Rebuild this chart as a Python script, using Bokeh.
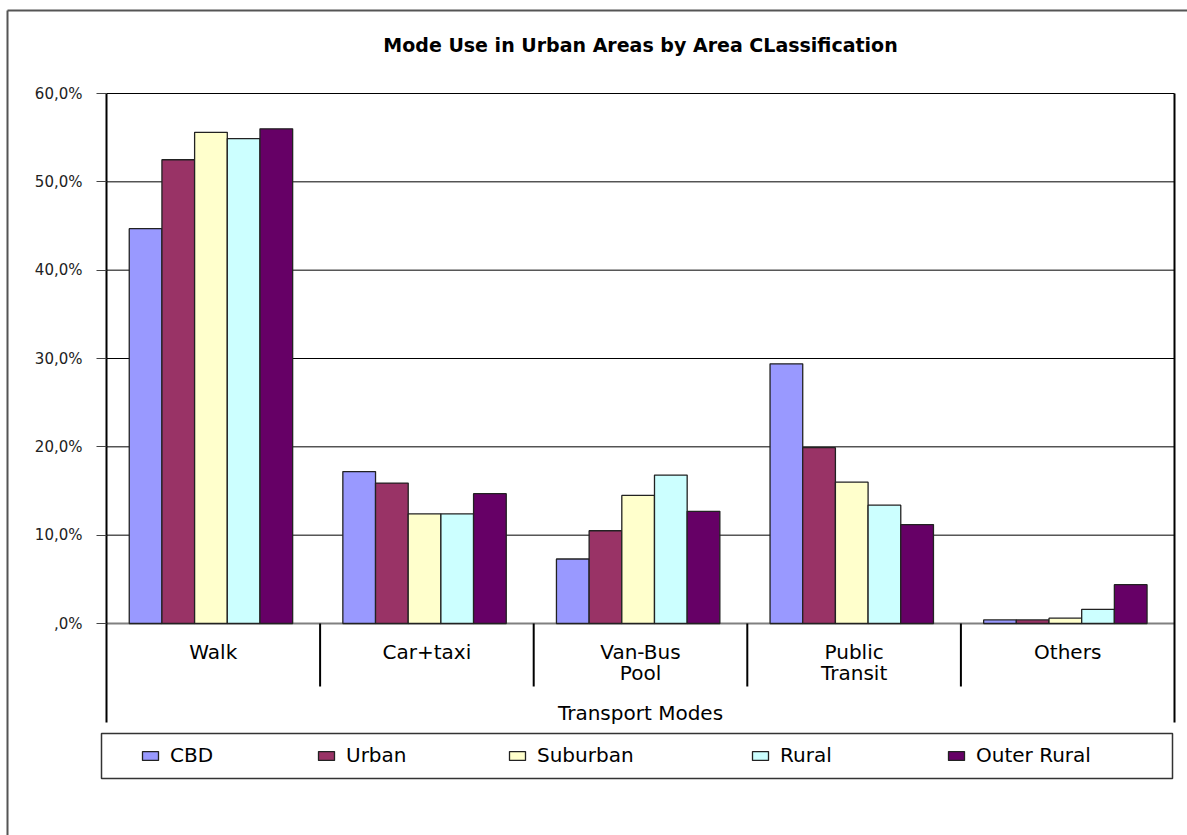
from bokeh.plotting import figure
from bokeh.models import Range1d, LinearAxis, FixedTicker, Legend, LegendItem, Grid
from bokeh.core.properties import value
from bokeh.embed import file_html
from bokeh.resources import INLINE

# ---------------- data ----------------
title_text = "Mode Use in Urban Areas by Area CLassification"
x_axis_title = "Transport Modes"
categories = ["Walk", "Car+taxi", "Van-Bus\nPool", "Public\nTransit", "Others"]
series = ["CBD", "Urban", "Suburban", "Rural", "Outer Rural"]
cbd = [44.7, 17.2, 7.3, 29.4, 0.4]
urban = [52.5, 15.9, 10.5, 19.9, 0.4]
suburban = [55.6, 12.4, 14.5, 16.0, 0.6]
rural = [54.9, 12.4, 16.8, 13.4, 1.6]
outer_rural = [56.0, 14.7, 12.7, 11.2, 4.4]
y_ticks = [0, 10, 20, 30, 40, 50, 60]
y_tick_labels = [",0%", "10,0%", "20,0%", "30,0%", "40,0%", "50,0%", "60,0%"]

# ---------------- style / layout ----------------
colors = ["#9999FF", "#993366", "#FFFFCC", "#CCFFFF", "#660066"]
FONT = "DejaVu Sans"
W, H = 1187, 835
PL, PR, PT, PB = 106, 1174, 93, 623   # plot area in pixels
CAT_W = (PR - PL) / len(categories)
SY = (PB - PT) / y_ticks[-1]
BW = 0.153
SHIFT = -0.011
LEGEND_X = [140, 316, 507, 750, 946]   # legend entry positions (pixels)


def dx(px):
    return (px - PL) / CAT_W


def dy(py):
    return (PB - py) / SY


p = figure(width=W, height=H,
           x_range=Range1d(dx(0), dx(W)), y_range=Range1d(dy(H), dy(0)),
           output_backend="svg", toolbar_location=None,
           x_axis_location=None, y_axis_location=None, min_border=0)
p.title.visible = False
p.outline_line_color = None
p.background_fill_color = "white"
p.border_fill_color = "white"
p.center = [r for r in p.center if not isinstance(r, Grid)]

# outer chart border (left + top)
p.segment(x0=[dx(7), dx(7)], y0=[dy(10), dy(10)], x1=[dx(7), dx(W)], y1=[dy(H), dy(10)],
          line_color="#555555", line_width=2)

# horizontal grid lines
p.segment(x0=[0] * (len(y_ticks) - 1), x1=[len(categories)] * (len(y_ticks) - 1),
          y0=y_ticks[1:], y1=y_ticks[1:], line_color="#000000", line_width=1)
# baseline
p.segment(x0=[0], x1=[len(categories)], y0=[0], y1=[0], line_color="#808080", line_width=2)

# bars
all_vals = [cbd, urban, suburban, rural, outer_rural]
n = len(series)
bar_renderers = []
for k, (vals, col) in enumerate(zip(all_vals, colors)):
    xs = [i + 0.5 + (k - (n - 1) / 2) * BW + SHIFT for i in range(len(categories))]
    r = p.vbar(x=xs, top=vals, bottom=0, width=BW, fill_color=col,
               line_color="#222222", line_width=1.3)
    bar_renderers.append(r)

# category separators
p.segment(x0=list(range(1, len(categories))), x1=list(range(1, len(categories))),
          y0=[0] * (len(categories) - 1), y1=[dy(686)] * (len(categories) - 1),
          line_color="black", line_width=2)

# category labels
p.text(x=[i + 0.5 for i in range(len(categories))], y=[dy(639)] * len(categories),
       text=categories, text_align="center", text_baseline="top",
       text_font=value(FONT), text_font_size="20px", text_color="black",
       text_line_height=0.9)

# x axis title
p.text(x=[len(categories) / 2], y=[dy(712)], text=[x_axis_title],
       text_align="center", text_baseline="middle",
       text_font=value(FONT), text_font_size="20px", text_color="black")

# chart title
p.text(x=[len(categories) / 2], y=[dy(44)], text=[title_text],
       text_align="center", text_baseline="middle",
       text_font=value(FONT), text_font_size="19px", text_font_style="bold",
       text_color="black")

# legend box
p.quad(left=[dx(101)], right=[dx(1172)], top=[dy(733)], bottom=[dy(778)],
       fill_color="white", line_color="#333333", line_width=1.5)

# y axis
yax = LinearAxis(fixed_location=0, bounds=(dy(722), y_ticks[-1]),
                 ticker=FixedTicker(ticks=y_ticks),
                 major_label_overrides=dict(zip(y_ticks, y_tick_labels)),
                 axis_line_width=2, axis_line_color="black",
                 major_tick_out=10, major_tick_in=0,
                 major_tick_line_color="#444444", minor_tick_line_color=None,
                 major_label_standoff=14,
                 major_label_text_font=FONT, major_label_text_font_size="15px",
                 major_label_text_color="#222222")
p.add_layout(yax, "left")

# right border
rax = LinearAxis(fixed_location=len(categories), bounds=(dy(722), y_ticks[-1]),
                 ticker=FixedTicker(ticks=[]),
                 axis_line_width=2, axis_line_color="black",
                 major_tick_line_color=None, minor_tick_line_color=None,
                 major_label_text_font_size="0px")
p.add_layout(rax, "right")

# legend entries
for s, r, lx in zip(series, bar_renderers, LEGEND_X):
    lg = Legend(items=[LegendItem(label=s, renderers=[r])],
                orientation="horizontal", location=(lx, H - 767),
                glyph_width=20, glyph_height=11, label_standoff=10,
                spacing=0, padding=0, margin=0,
                border_line_color=None, background_fill_alpha=0,
                label_text_font=FONT, label_text_font_size="20px",
                label_text_color="black")
    p.add_layout(lg, "center")

open("out.html", "w").write(file_html(p, INLINE))
